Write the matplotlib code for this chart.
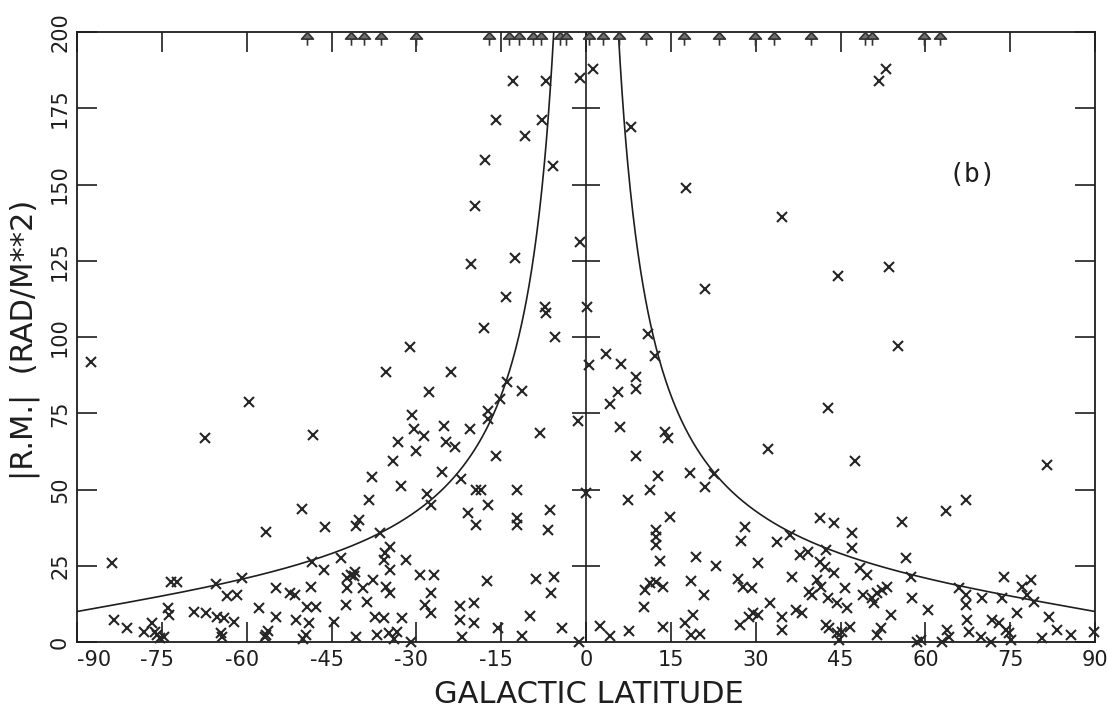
import numpy as np
import matplotlib
matplotlib.use('Agg')
import matplotlib.pyplot as plt
from matplotlib.path import Path
import matplotlib.transforms as mtransforms

plt.rcParams['axes.unicode_minus'] = False
plt.rcParams['font.family'] = ['DejaVu Sans']

# ---- data: galactic latitude (deg) and |RM| (rad/m^2) ----
lat_south = [-87.5, -59.6, -67.4, -48.3, -37.9, -38.3, -35.3, -50.3, -83.8, -56.6,
             -46.1, -40.2, -40.6, -73.4, -72.3, -65.5, -60.8, -63.5, -61.7, -54.9,
             -52.3, -51.5, -48.7, -48.5, -46.4, -43.4, -41.6, -40.8, -42.2, -41.0,
             -42.3, -39.4, -37.6, -42.5, -38.8, -37.3, -37.0, -40.6, -44.6, -49.4,
             -47.8, -49.0, -51.2, -49.6, -50.0, -54.9, -57.9, -56.6, -56.2, -56.8,
             -62.3, -64.1, -64.6, -64.3, -67.2, -65.3, -69.4, -73.9, -73.8, -83.5,
             -81.2, -78.2, -76.8, -75.9, -75.3, -76.3, -74.6,
             -20.3, -12.5, -14.1, -18.0, -7.2, -7.0, -5.5, -31.2, -23.8, -27.7,
             -13.9, -11.3, -15.2, -17.3, -17.3, -30.7, -30.5, -28.6, -33.2, -30.0,
             -25.1, -20.6, -24.7, -23.1, -34.2, -32.8, -25.4, -22.1, -15.9, -8.1,
             -28.2, -19.4, -18.5, -12.2, -27.5, -17.3, -6.4, -20.8, -19.4, -12.2,
             -12.2, -6.7, -36.4, -34.6, -35.5, -35.8, -34.6, -31.8, -29.3, -26.8,
             -35.3, -34.6, -27.5, -28.4, -27.4, -35.8, -32.6, -34.9, -33.5, -34.0,
             -31.0, -17.6, -22.2, -19.9, -22.2, -19.9, -22.0, -15.5, -11.3, -9.9,
             -8.8, -5.6, -6.2, -4.2, -1.2,
             -13.0, -7.0, -1.0, 1.3, -16.0, -7.7, -10.8, -17.8, -5.9, -19.6,
             -1.0, -1.4, 0.1, 0.0]
rm_south = [91.8, 78.6, 66.8, 67.8, 54.0, 46.4, 88.5, 43.7, 26.0, 36.2,
            37.8, 40.0, 38.0, 19.7, 19.7, 19.0, 21.0, 15.0, 15.5, 17.8,
            16.1, 15.5, 18.1, 26.3, 23.7, 27.6, 22.0, 23.0, 21.0, 21.5,
            17.8, 17.8, 20.4, 12.2, 13.2, 8.2, 2.3, 1.6, 6.6, 11.5,
            11.5, 6.3, 7.2, 2.3, 1.0, 8.2, 11.2, 2.3, 3.5, 1.5,
            6.6, 7.9, 3.0, 1.8, 9.5, 8.2, 9.9, 11.2, 8.9, 7.2,
            4.6, 3.3, 6.3, 2.3, 1.2, 3.4, 1.6,
            124, 126, 113, 103, 110, 108, 100, 96.7, 88.5, 81.9,
            85.2, 82.2, 79.6, 75.7, 73.0, 74.3, 69.7, 67.4, 65.5, 62.5,
            70.7, 69.7, 65.5, 63.8, 59.2, 51.0, 55.6, 53.6, 60.9, 68.4,
            48.4, 49.7, 49.7, 49.7, 45.0, 45.0, 43.4, 42.4, 38.5, 40.5,
            38.5, 36.8, 35.9, 31.3, 29.3, 27.0, 23.7, 27.0, 22.0, 22.0,
            18.1, 16.1, 16.1, 12.2, 9.5, 7.9, 7.9, 3.0, 3.3, 1.0,
            0.0, 20.0, 11.8, 12.8, 7.2, 6.3, 1.6, 4.6, 2.0, 8.6,
            20.7, 21.4, 16.1, 4.6, 0.0,
            184, 184, 185, 188, 171, 171, 166, 158, 156, 143,
            131, 72.4, 110, 49.0]

lat_north = [21.0, 10.9, 12.2, 3.5, 6.2, 0.5, 8.8, 8.8, 5.6, 4.2,
             6.0, 13.9, 14.5, 8.8, 12.7, 11.3, 18.4, 22.6, 21.0, 7.4,
             2.5, 4.2, 7.6, 14.8, 12.4, 12.4, 12.4, 13.1, 11.3, 12.4,
             13.6, 10.4, 10.2, 13.6, 19.4, 22.9, 18.5, 20.8, 18.9, 17.5,
             18.5, 20.1, 26.8, 27.8, 27.4, 27.2, 28.1, 30.4, 29.3, 28.9,
             30.4, 32.5, 29.5, 34.6, 34.6, 33.7, 36.0, 36.4, 37.2, 38.1,
             41.3, 43.9, 37.8, 39.2, 42.5, 41.3, 42.2, 43.9, 40.8, 41.6,
             39.5, 39.9, 42.7, 44.3, 45.7, 46.2, 47.1, 47.1, 42.5, 43.0,
             44.3, 45.2, 46.6, 44.8, 48.4, 49.6, 48.9, 50.6, 51.5, 51.0,
             52.4, 53.3, 52.2, 51.5, 54.0, 55.8, 56.6, 57.5, 57.7, 60.4,
             58.6, 59.3, 63.0, 63.7, 67.2, 63.9, 64.2, 66.0, 67.2, 67.2,
             67.4, 67.8, 70.0, 69.9, 71.6, 71.8, 73.6, 73.9, 73.0, 74.3,
             74.8, 76.2, 75.2, 77.1, 78.7, 78.0, 79.2, 80.6, 81.9, 83.3,
             85.8, 89.8, 44.5, 53.6, 55.2, 42.7, 32.1, 47.6, 81.5, 53.1,
             51.8, 34.6, 17.6, 7.9]
rm_north = [115.8, 101, 93.8, 94.4, 91.1, 90.8, 86.8, 82.9, 81.9, 78.0,
            70.4, 69.0, 67.0, 60.9, 54.3, 50.0, 55.3, 55.0, 50.7, 46.4,
            5.3, 2.0, 3.6, 41.0, 36.8, 34.5, 31.9, 26.6, 19.4, 19.7,
            18.1, 17.1, 11.5, 4.9, 28.0, 25.0, 20.0, 15.5, 8.9, 6.3,
            2.3, 2.6, 20.7, 18.1, 33.0, 5.6, 37.8, 26.0, 17.8, 8.2,
            8.9, 12.8, 9.5, 8.2, 3.9, 32.9, 35.2, 21.4, 10.5, 9.5,
            40.8, 39.1, 28.6, 29.6, 30.3, 26.3, 24.7, 22.7, 20.4, 18.1,
            16.4, 15.5, 14.5, 12.8, 17.8, 11.2, 35.9, 30.9, 5.6, 4.6,
            3.0, 3.3, 4.9, 0.7, 24.3, 22.0, 15.5, 14.5, 16.1, 12.8,
            17.1, 18.1, 4.6, 2.3, 8.9, 39.5, 27.6, 21.4, 14.5, 10.5,
            0.0, 0.5, 0.0, 42.8, 46.7, 3.9, 1.6, 17.8, 15.5, 12.2,
            7.2, 3.3, 14.5, 1.6, 0.0, 7.2, 14.5, 21.4, 6.3, 3.9,
            3.0, 9.5, 0.7, 18.1, 20.4, 15.5, 13.2, 1.3, 8.2, 3.9,
            2.3, 3.3, 120, 123, 97, 76.6, 63.2, 59.2, 57.9, 188,
            184, 139.5, 149, 169]

# sources with |RM| > 200 (plotted as arrows at the top)
arrow_lat = [-49.4, -41.5, -39.2, -36.2, -30.0, -17.1, -13.6, -11.8, -9.3, -7.9,
             -4.6, -3.5, 0.5, 3.0, 5.8, 10.6, 17.3, 23.5, 29.8, 33.3,
             39.7, 49.4, 50.6, 59.8, 62.5]
arrow_rm = [200] * len(arrow_lat)

xticks = [-90, -75, -60, -45, -30, -15, 0, 15, 30, 45, 60, 75, 90]
yticks = [0, 25, 50, 75, 100, 125, 150, 175, 200]

fig = plt.figure(figsize=(11.07, 7.12), dpi=100)
ax = fig.add_axes([0.0696, 0.0983, 0.9196, 0.8567])
ax.set_xlim(-90, 90)
ax.set_ylim(0, 200)

ink = '#1e1e1e'

# model envelope curve
bb = np.linspace(0.3, 90, 800)
env = 10 + 19 / np.tan(np.radians(bb))
ax.plot(bb, env, color=ink, lw=1.2)
ax.plot(-bb, env, color=ink, lw=1.2)

# central vertical axis with cross ticks
ax.axvline(0, color=ink, lw=1.2)
ax.plot(np.zeros(len(yticks) - 2), yticks[1:-1], ls='none', marker='_',
        ms=19.5, mew=1.2, color=ink)

# data points
ax.plot(lat_south + lat_north, rm_south + rm_north, ls='none', marker='x',
        ms=7.8, mew=1.5, color='#262626', clip_on=False, zorder=3)

# arrow markers for values beyond the plot
verts = [(0, 0), (-0.45, -0.5), (0.45, -0.5), (0, 0), (0, -0.5), (0, -1.0)]
codes = [Path.MOVETO, Path.LINETO, Path.LINETO, Path.CLOSEPOLY, Path.MOVETO, Path.LINETO]
arrow = Path(verts, codes)
ax.plot(arrow_lat, arrow_rm, ls='none', marker=arrow, ms=19, mew=1.2,
        markerfacecolor='#6f6f6f', markeredgecolor='#333333', clip_on=False, zorder=4)

# axes styling
for s in ax.spines.values():
    s.set_linewidth(1.3)
    s.set_color(ink)
ax.set_xticks(xticks)
ax.set_yticks(yticks)
ax.set_xticklabels([str(t) for t in xticks])
ax.set_yticklabels([str(t) for t in yticks])
ax.tick_params(direction='in', length=14.4, width=1.2, top=True, right=True,
               color=ink, labelcolor=ink)
ax.tick_params(axis='x', labelsize=15, pad=6)
ax.tick_params(axis='y', labelsize=15, pad=5, labelrotation=90)
for lab in ax.get_yticklabels():
    lab.set_va('center')

for lab, t in zip(ax.get_xticklabels(), xticks):
    if t == -90:
        dx = 17
    elif t < 0:
        dx = -5
    else:
        dx = 0
    if dx:
        lab.set_transform(lab.get_transform() +
                          mtransforms.ScaledTranslation(dx / 100, 0, fig.dpi_scale_trans))

fig.text(0.532, 0.024, 'GALACTIC LATITUDE', fontsize=22, color=ink,
         ha='center', va='center')
fig.text(0.0226, 0.5225, '|R.M.|  (RAD/M**2)', fontsize=22, color=ink,
         rotation=90, ha='center', va='center')
fig.text(0.878, 0.754, '(b)', fontsize=19, color=ink, family='DejaVu Sans Mono',
         ha='center', va='center')

fig.savefig('out.png', dpi=100)
